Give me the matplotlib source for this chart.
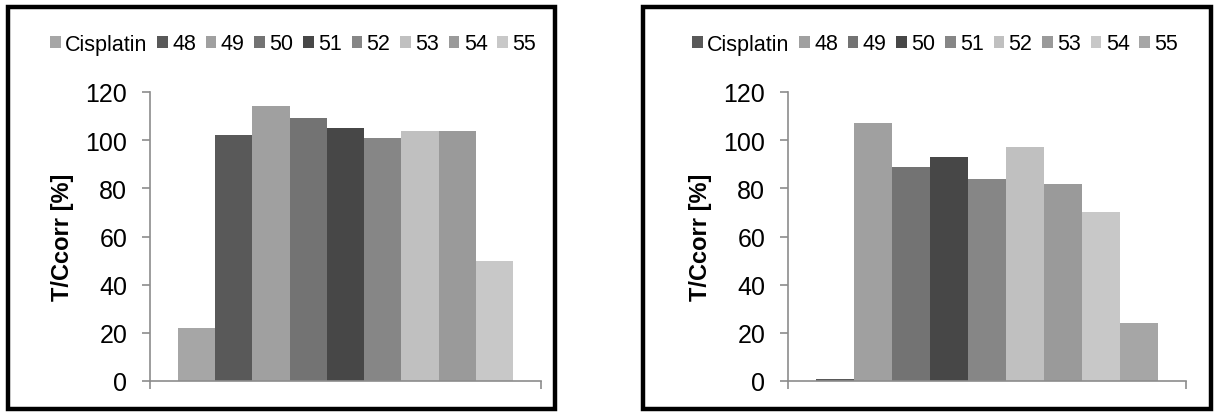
import matplotlib
matplotlib.use("Agg")
import matplotlib.pyplot as plt
from matplotlib.patches import Rectangle

plt.rcParams["font.family"] = ["Liberation Sans", "DejaVu Sans"]

# Series shown in both panels
series = ["Cisplatin", "48", "49", "50", "51", "52", "53", "54", "55"]

# T/Ccorr values [%] for each panel
left_values = [22, 102, 114, 109, 105, 101, 104, 104, 50]
right_values = [1, 107, 89, 93, 84, 97, 82, 70, 24]

left_colors = ["#A6A6A6", "#595959", "#A0A0A0", "#737373", "#474747",
               "#868686", "#C0C0C0", "#9A9A9A", "#C8C8C8"]
right_colors = ["#595959", "#A0A0A0", "#737373", "#474747", "#868686",
                "#C0C0C0", "#9A9A9A", "#C8C8C8", "#A6A6A6"]

y_ticks = [0, 20, 40, 60, 80, 100, 120]
y_label = "T/Ccorr [%]"

W, H = 1214, 414
fig = plt.figure(figsize=(W / 100, H / 100), dpi=100)
fig.patch.set_facecolor("white")

AXIS_GREY = "#8C8C8C"


def fig_rect(x0, y0, x1, y1):
    """Pixel box (top-left origin) -> figure-fraction [l, b, w, h]."""
    return [x0 / W, (H - y1) / H, (x1 - x0) / W, (y1 - y0) / H]


def panel(box, axes_px, values, colors, legend_center):
    # thick black frame around the whole chart
    l, b, w, h = fig_rect(*box)
    fig.patches.append(Rectangle((l, b), w, h, transform=fig.transFigure,
                                 fill=False, ec="black", lw=3.2, zorder=0))

    ax = fig.add_axes(fig_rect(*axes_px))
    n = len(values)
    gap = 1.5                      # gap width relative to one bar
    bw = 1.0 / (n + gap)
    start = -0.5 + gap / 2 * bw
    for i, (name, v, c) in enumerate(zip(series, values, colors)):
        ax.bar(start + (i + 0.5) * bw, v, width=bw, color=c, label=name,
               linewidth=0)

    ax.set_xlim(-0.5, 0.5)
    ax.set_ylim(0, 120)
    ax.set_yticks(y_ticks)
    ax.set_xticks([-0.5, 0.5])
    ax.set_xticklabels([])
    for s in ("top", "right"):
        ax.spines[s].set_visible(False)
    for s in ("left", "bottom"):
        ax.spines[s].set_color(AXIS_GREY)
        ax.spines[s].set_linewidth(1.2)
    ax.tick_params(axis="both", direction="out", length=5.8, width=1.2,
                   color=AXIS_GREY)
    ax.tick_params(axis="y", labelsize=18, pad=10.5, labelcolor="black")

    # rotated bold axis title, centred on the value axis
    ax_l, ax_b, ax_w, ax_h = ax.get_position().bounds
    fig.text((axes_px[0] - 87) / W, ax_b + ax_h / 2, y_label, rotation=90,
             ha="center", va="center", fontsize=17, fontweight="bold")

    handles, labels = ax.get_legend_handles_labels()
    fig.legend(handles, labels, loc="center",
               bbox_to_anchor=(legend_center[0] / W, 1 - legend_center[1] / H),
               ncol=n, frameon=False, fontsize=15.5,
               handlelength=0.5, handleheight=0.5, handletextpad=0.2,
               columnspacing=0.45, borderaxespad=0, borderpad=0)
    return ax


panel((8, 8, 555, 410), (150, 93, 541, 382), left_values, left_colors,
      (293, 45))
panel((643, 8, 1211, 410), (788, 93, 1186, 382), right_values, right_colors,
      (935, 45))

fig.savefig("out.png", dpi=100, facecolor="white")
